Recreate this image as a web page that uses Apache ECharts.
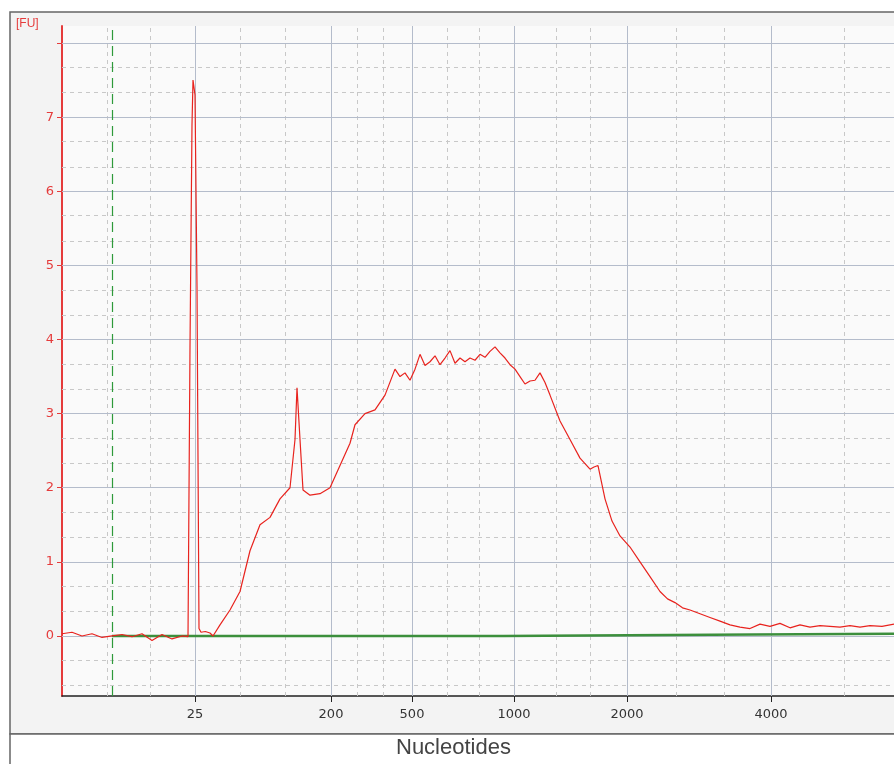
<!DOCTYPE html>
<html>
<head>
<meta charset="utf-8">
<script src="https://cdn.jsdelivr.net/npm/echarts@6/dist/echarts.min.js"></script>
<style>
  html, body { margin: 0; padding: 0; background: #fff; }
  #chart { width: 894px; height: 764px; }
</style>
</head>
<body>
<div id="chart"></div>
<script>
// x values are migration time (s), y values are fluorescence units
var sampleTime = [20, 20.6, 21.2, 21.8, 22.4, 23, 23.6, 24.2, 24.8, 25.4, 26, 26.6, 27.2, 27.56,
  27.68, 27.8, 27.86, 27.98, 28.04, 28.1, 28.22, 28.34, 28.6, 28.88, 29.06, 29.48, 30.08, 30.68,
  31.28, 31.88, 32.48, 33.08, 33.68, 33.98, 34.1, 34.28, 34.46, 34.88, 35.48, 36.08, 36.68, 37.28,
  37.58, 38.18, 38.78, 39.38, 39.98, 40.28, 40.58, 40.88, 41.18, 41.48, 41.78, 42.08, 42.38, 42.68,
  42.98, 43.28, 43.58, 43.88, 44.18, 44.48, 44.78, 45.08, 45.38, 45.68, 45.98, 46.28, 46.58, 46.88,
  47.18, 47.48, 47.78, 48.08, 48.38, 48.68, 48.98, 49.28, 49.88, 50.48, 51.08, 51.68, 51.92, 52.16,
  52.58, 53.0, 53.48, 54.08, 54.68, 55.28, 55.88, 56.33, 56.78, 57.23, 57.68, 58.28, 58.88, 59.48,
  60.08, 60.68, 61.28, 61.88, 62.48, 63.08, 63.68, 64.28, 64.88, 65.48, 66.08, 66.68, 67.28, 67.88,
  68.48, 69.2, 69.92];
var sampleFU = [0.03, 0.05, 0.0, 0.03, -0.02, 0.0, 0.02, -0.01, 0.03, -0.06, 0.02, -0.04, 0.0, -0.01,
  3.9, 6.9, 7.5, 7.3, 6.0, 4.7, 0.1, 0.05, 0.06, 0.04, 0.0, 0.15, 0.35, 0.6,
  1.15, 1.5, 1.6, 1.85, 2.0, 2.65, 3.35, 2.65, 1.97, 1.9, 1.92, 2.0, 2.3, 2.6,
  2.85, 3.0, 3.05, 3.25, 3.6, 3.5, 3.55, 3.45, 3.6, 3.8, 3.65, 3.7, 3.78, 3.66,
  3.75, 3.85, 3.68, 3.75, 3.7, 3.75, 3.72, 3.8, 3.76, 3.84, 3.9, 3.82, 3.75, 3.66,
  3.6, 3.5, 3.4, 3.44, 3.45, 3.55, 3.42, 3.25, 2.9, 2.65, 2.4, 2.25, 2.28, 2.3,
  1.85, 1.55, 1.35, 1.2, 1.0, 0.8, 0.6, 0.5, 0.45, 0.38, 0.35, 0.3, 0.25, 0.2,
  0.15, 0.12, 0.1, 0.16, 0.13, 0.17, 0.11, 0.15, 0.12, 0.14, 0.13, 0.12, 0.14, 0.12,
  0.14, 0.13, 0.16];
var baselineTime = [23, 30.0, 46.5, 46.5, 61.5, 61.5, 69.92];
var baselineFU = [0.0, 0.0, 0.0, 0.02, 0.02, 0.03, 0.03];

var ladderTime = [27.98, 36.14, 41.0, 47.12, 53.9, 62.54];
var ladderLabels = ['25', '200', '500', '1000', '2000', '4000'];
var minorTime = [22.7, 25.28, 30.68, 33.38, 37.7, 39.26, 43.1, 45.02, 49.64, 51.68, 56.84, 59.72, 66.92];
var markerTime = 23.0;

var yMajor = [0, 1, 2, 3, 4, 5, 6, 7, 8];
var yMinor = [-0.67, -0.33, 0.33, 0.67, 1.33, 1.67, 2.33, 2.67, 3.33, 3.67, 4.33, 4.67,
  5.33, 5.67, 6.33, 6.67, 7.33, 7.67];

function zip(a, b) { return a.map(function (v, i) { return [v, b[i]]; }); }

var gridLines = [];
ladderTime.forEach(function (t) {
  gridLines.push({ xAxis: t, lineStyle: { color: '#b4bccb', type: 'solid', width: 1 } });
});
minorTime.forEach(function (t) {
  gridLines.push({ xAxis: t, lineStyle: { color: '#c8c8c8', type: [4, 4], width: 1 } });
});
yMajor.forEach(function (v) {
  gridLines.push({ yAxis: v, lineStyle: { color: '#b4bccb', type: 'solid', width: 1 } });
});
yMinor.forEach(function (v) {
  gridLines.push({ yAxis: v, lineStyle: { color: '#c8c8c8', type: [4, 4], width: 1 } });
});
gridLines.push({ xAxis: markerTime, lineStyle: { color: '#2e9a3a', type: [10, 6], width: 1.2 } });

var chart = echarts.init(document.getElementById('chart'));
chart.setOption({
  animation: false,
  backgroundColor: '#fff',
  textStyle: { fontFamily: 'DejaVu Sans, sans-serif' },
  graphic: [
    { type: 'rect', z: -10, shape: { x: 10, y: 12, width: 900, height: 722 },
      style: { fill: '#f3f3f3', stroke: '#666', lineWidth: 1.5 } },
    { type: 'rect', z: -10, shape: { x: 10, y: 734, width: 900, height: 40 },
      style: { fill: '#fff', stroke: '#666', lineWidth: 1.5 } },
    { type: 'text', left: 16, top: 18, style: { text: '[FU]', fill: '#e53b3b', fontSize: 12 } },
    { type: 'text', left: 396, top: 737, style: { text: 'Nucleotides', fill: '#444', fontSize: 22, fontFamily: 'Liberation Sans, sans-serif' } }
  ],
  grid: { left: 62, top: 26, right: 0, bottom: 68, show: true, backgroundColor: '#fafafa', borderWidth: 0 },
  xAxis: {
    type: 'value', min: 20, max: 69.92,
    axisLine: { onZero: false, lineStyle: { color: '#222', width: 1.5 } },
    axisTick: { customValues: ladderTime, length: 6, lineStyle: { color: '#222' } },
    axisLabel: {
      customValues: ladderTime, color: '#333', fontSize: 13, margin: 12,
      formatter: function (v) {
        var i = ladderTime.indexOf(v);
        return i >= 0 ? ladderLabels[i] : '';
      }
    },
    splitLine: { show: false }
  },
  yAxis: {
    type: 'value', min: -0.81, max: 8.23,
    axisLine: { show: true, lineStyle: { color: '#e53b3b', width: 2 } },
    axisTick: { show: true, customValues: [0, 1, 2, 3, 4, 5, 6, 7, 8], length: 5, lineStyle: { color: '#e53b3b' } },
    axisLabel: { customValues: [0, 1, 2, 3, 4, 5, 6, 7], color: '#e53b3b', fontSize: 13, margin: 8 },
    splitLine: { show: false }
  },
  series: [
    {
      type: 'line', name: 'grid', data: [], silent: true,
      markLine: { symbol: 'none', silent: true, label: { show: false }, data: gridLines, z: 1 }
    },
    {
      type: 'line', name: 'baseline', data: zip(baselineTime, baselineFU), showSymbol: false,
      lineStyle: { color: '#3c8f3c', width: 2.5 }, z: 3
    },
    {
      type: 'line', name: 'sample', data: zip(sampleTime, sampleFU), showSymbol: false,
      lineStyle: { color: '#e8231e', width: 1.2 }, z: 4
    }
  ]
});
</script>
</body>
</html>
